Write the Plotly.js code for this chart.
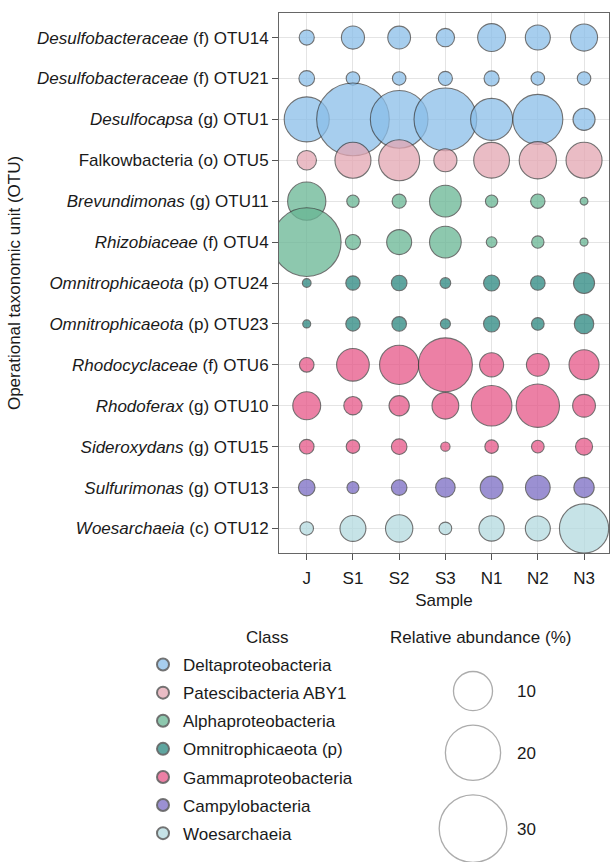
<!DOCTYPE html>
<html>
<head>
<meta charset="utf-8">
<script src="https://cdn.plot.ly/plotly-3.0.1.min.js"></script>
<style>html,body{margin:0;padding:0;background:#fff;}#chart{width:610px;height:862px;}</style>
</head>
<body>
<div id="chart"></div>
<script>
// Samples (x categories)
const samples = ["J", "S1", "S2", "S3", "N1", "N2", "N3"];

// OTU labels (y categories, top to bottom)
const otuLabels = [
  "<i>Desulfobacteraceae</i> (f) OTU14",
  "<i>Desulfobacteraceae</i> (f) OTU21",
  "<i>Desulfocapsa</i> (g) OTU1",
  "Falkowbacteria (o) OTU5",
  "<i>Brevundimonas</i> (g) OTU11",
  "<i>Rhizobiaceae</i> (f) OTU4",
  "<i>Omnitrophicaeota</i> (p) OTU24",
  "<i>Omnitrophicaeota</i> (p) OTU23",
  "<i>Rhodocyclaceae</i> (f) OTU6",
  "<i>Rhodoferax</i> (g) OTU10",
  "<i>Sideroxydans</i> (g) OTU15",
  "<i>Sulfurimonas</i> (g) OTU13",
  "<i>Woesarchaeia</i> (c) OTU12"
];

// Class of each OTU (same order as otuLabels)
const otuClass = [
  "Deltaproteobacteria", "Deltaproteobacteria", "Deltaproteobacteria",
  "Patescibacteria ABY1",
  "Alphaproteobacteria", "Alphaproteobacteria",
  "Omnitrophicaeota (p)", "Omnitrophicaeota (p)",
  "Gammaproteobacteria", "Gammaproteobacteria", "Gammaproteobacteria",
  "Campylobacteria",
  "Woesarchaeia"
];

// Relative abundance (%) per OTU, samples J,S1,S2,S3,N1,N2,N3
const otu14 = [1.5, 3.5, 3.4, 2.2, 5.1, 4.1, 4.8];
const otu21 = [1.6, 1.2, 1.2, 1.3, 1.5, 1.2, 1.2];
const otu1  = [13.3, 34.6, 21.8, 25.8, 11.6, 16.4, 3.2];
const otu5  = [2.5, 8.5, 11.0, 3.5, 8.4, 9.1, 8.5];
const otu11 = [9.6, 1.0, 1.3, 6.6, 1.0, 1.35, 0.4];
const otu4  = [31.0, 1.5, 4.1, 6.6, 0.75, 1.0, 0.42];
const otu24 = [0.5, 1.35, 1.6, 0.75, 1.7, 1.4, 2.9];
const otu23 = [0.42, 1.35, 1.4, 0.66, 1.7, 1.05, 2.5];
const otu6  = [1.4, 7.0, 10.1, 19.1, 3.8, 3.4, 5.9];
const otu10 = [5.1, 2.2, 2.7, 4.7, 10.8, 12.3, 3.4];
const otu15 = [1.4, 1.2, 1.6, 0.57, 1.2, 1.05, 1.9];
const otu13 = [1.8, 0.94, 1.6, 2.5, 3.4, 4.0, 2.7];
const otu12 = [1.2, 4.4, 4.9, 1.05, 4.2, 4.1, 15.9];

// Classes in legend order
const classNames = [
  "Deltaproteobacteria", "Patescibacteria ABY1", "Alphaproteobacteria",
  "Omnitrophicaeota (p)", "Gammaproteobacteria", "Campylobacteria", "Woesarchaeia"
];
const classColors = [
  "rgb(138,190,233)", "rgb(228,166,178)", "rgb(104,182,148)",
  "rgb(42,135,128)", "rgb(230,86,135)", "rgb(122,108,195)", "rgb(179,218,223)"
];

// Size legend values (%)
const sizeLegendValues = [10, 20, 30];

const abundance = [otu14, otu21, otu1, otu5, otu11, otu4, otu24, otu23, otu6, otu10, otu15, otu13, otu12];

// Bubble scale: diameter px = PX_PER_SQRT * sqrt(value)
const PX_PER_SQRT = 12.35;
const SIZEREF = 2 / (PX_PER_SQRT * PX_PER_SQRT);

const FONT = "Liberation Sans, Arial, Helvetica, sans-serif";
const TXT = "#1a1a1a";
const FS = 17;

const traces = [];
classNames.forEach((cls, ci) => {
  const xs = [], ys = [], ss = [];
  otuLabels.forEach((lab, oi) => {
    if (otuClass[oi] !== cls) return;
    samples.forEach((s, si) => {
      xs.push(s); ys.push(lab); ss.push(abundance[oi][si]);
    });
  });
  traces.push({
    type: "scatter", mode: "markers", name: cls,
    legendgroup: cls,
    x: xs, y: ys, xaxis: "x", yaxis: "y",
    marker: {
      size: ss, sizemode: "area", sizeref: SIZEREF,
      color: classColors[ci], opacity: 0.75,
      line: { color: "rgba(50,50,50,0.9)", width: 1.1 }
    },
    hoverinfo: "skip"
  });
});

// Size legend: stack circles vertically with a fixed gap
const GAP = 14.5, TOP0 = 11.5;
const sizeY = [];
{
  let cur = TOP0;
  sizeLegendValues.forEach(v => {
    const d = PX_PER_SQRT * Math.sqrt(v);
    sizeY.push(cur + d / 2);
    cur += d + GAP;
  });
}
traces.push({
  type: "scatter", mode: "markers", showlegend: false,
  x: sizeLegendValues.map(() => 0), y: sizeY,
  xaxis: "x2", yaxis: "y2", cliponaxis: false,
  marker: {
    size: sizeLegendValues, sizemode: "area", sizeref: SIZEREF,
    color: "rgba(255,255,255,0)", line: { color: "#8a8a8a", width: 1.3 }
  },
  hoverinfo: "skip"
});

const W = 610, H = 862;
const px = v => v / W;
const py = v => 1 - v / H;
const SL_H = 202;

const layout = {
  width: W, height: H,
  margin: { l: 0, r: 0, t: 0, b: 0 },
  paper_bgcolor: "#ffffff", plot_bgcolor: "#ffffff",
  font: { family: FONT, size: FS, color: TXT },
  showlegend: true,
  xaxis: {
    domain: [px(279), px(609)], anchor: "y",
    type: "category", categoryorder: "array", categoryarray: samples,
    range: [-0.6, 6.54],
    showgrid: true, gridcolor: "#e4e4e4", gridwidth: 1,
    showline: true, linecolor: "#666", linewidth: 1, mirror: true,
    ticks: "outside", ticklen: 6, tickcolor: "#555",
    ticklabelstandoff: 4,
    tickfont: { family: FONT, size: FS, color: TXT },
    zeroline: false,
    title: { text: "Sample", font: { family: FONT, size: FS, color: TXT }, standoff: 6 }
  },
  yaxis: {
    domain: [py(553), py(13)], anchor: "x",
    type: "category", categoryorder: "array", categoryarray: otuLabels,
    range: [12.6, -0.6],
    showgrid: true, gridcolor: "#e4e4e4", gridwidth: 1,
    showline: true, linecolor: "#666", linewidth: 1, mirror: true,
    ticks: "outside", ticklen: 6, tickcolor: "#555",
    tickfont: { family: FONT, size: FS, color: TXT },
    zeroline: false,
    title: { text: "Operational taxonomic unit (OTU)", font: { family: FONT, size: FS, color: TXT }, standoff: 12 }
  },
  xaxis2: {
    domain: [px(440), px(506)], anchor: "y2",
    range: [-1, 1], visible: false, fixedrange: true
  },
  yaxis2: {
    domain: [0, SL_H / H], anchor: "x2", side: "right",
    range: [SL_H, 0],
    tickvals: sizeY, ticktext: sizeLegendValues.map(String),
    ticks: "", showgrid: false, zeroline: false, showline: false,
    ticklabelstandoff: 10,
    tickfont: { family: FONT, size: FS, color: TXT }
  },
  legend: {
    x: px(143), xanchor: "left", y: py(647), yanchor: "top",
    bgcolor: "rgba(0,0,0,0)",
    font: { family: FONT, size: FS, color: TXT },
    itemsizing: "constant", tracegroupgap: 3, traceorder: "grouped"
  },
  annotations: [
    {
      text: "Class", xref: "paper", yref: "paper",
      x: px(267), y: py(637), xanchor: "center", yanchor: "middle",
      showarrow: false, font: { family: FONT, size: FS, color: TXT }
    },
    {
      text: "Relative abundance (%)", xref: "paper", yref: "paper",
      x: px(480), y: py(637), xanchor: "center", yanchor: "middle",
      showarrow: false, font: { family: FONT, size: FS, color: TXT }
    }
  ]
};

Plotly.newPlot("chart", traces, layout, { displayModeBar: false, staticPlot: true });
</script>
</body>
</html>
